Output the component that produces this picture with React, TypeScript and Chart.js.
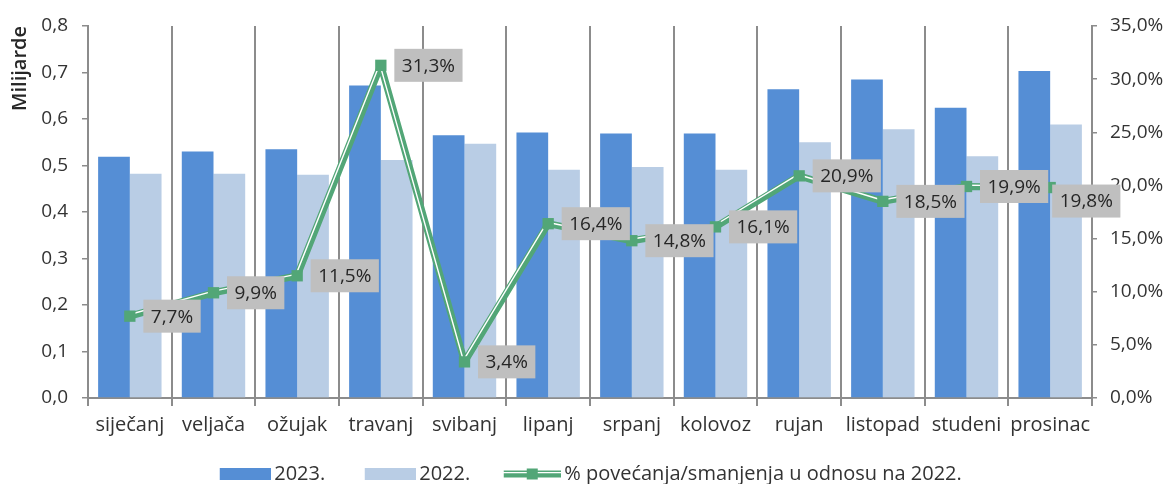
import React, { useEffect, useRef } from 'react';
import { Chart, registerables } from 'chart.js';

Chart.register(...registerables);

const categories = ['siječanj', 'veljača', 'ožujak', 'travanj', 'svibanj', 'lipanj', 'srpanj', 'kolovoz', 'rujan', 'listopad', 'studeni', 'prosinac'];
const values2023 = [0.519, 0.530, 0.535, 0.672, 0.565, 0.571, 0.569, 0.569, 0.664, 0.685, 0.624, 0.703];
const values2022 = [0.482, 0.482, 0.480, 0.512, 0.547, 0.491, 0.497, 0.491, 0.550, 0.578, 0.520, 0.588];
const changePct = [7.7, 9.9, 11.5, 31.3, 3.4, 16.4, 14.8, 16.1, 20.9, 18.5, 19.9, 19.8];
const seriesNames = ['2023.', '2022.', '% povećanja/smanjenja u odnosu na 2022.'];
const leftAxisTitle = 'Milijarde';
const leftAxisMax = 0.8;
const leftAxisStep = 0.1;
const rightAxisMax = 35;
const rightAxisStep = 5;

const C2023 = '#558ED5';
const C2022 = '#B9CDE5';
const CLINE = '#52A677';
const CGRID = '#8C8C8C';
const CTEXT = '#333333';
const FONT = "'Open Sans', 'Noto Sans', sans-serif";

// label nudges (pixel offsets) for the last data label, which the source places lower-left
const labelNudge: Record<number, { dx: number; dy: number }> = { 11: { dx: -11.5, dy: 13.5 } };

function fmt(v: number, d: number) {
  return v.toFixed(d).replace('.', ',');
}

function makeSwatch(kind: 'bar' | 'line', color: string) {
  const c = document.createElement('canvas');
  c.width = 70;
  c.height = 20;
  const ctx = c.getContext('2d')!;
  if (kind === 'bar') {
    ctx.fillStyle = color;
    ctx.fillRect(19, 4, 51, 12);
  } else {
    ctx.strokeStyle = color;
    ctx.lineWidth = 7;
    ctx.beginPath();
    ctx.moveTo(13, 10);
    ctx.lineTo(70, 10);
    ctx.stroke();
    ctx.strokeStyle = '#ffffff';
    ctx.lineWidth = 1.4;
    ctx.beginPath();
    ctx.moveTo(13, 8.6);
    ctx.lineTo(70, 8.6);
    ctx.stroke();
    ctx.fillStyle = color;
    ctx.fillRect(41.5 - 5.5, 4.5, 11, 11);
  }
  return c;
}

const stripeOffset = {
  id: 'stripeOffset',
  beforeDatasetDraw(chart: any, args: any) {
    if (args.index === 3) {
      chart.ctx.save();
      chart.ctx.translate(-1.1, -1.4);
    }
  },
  afterDatasetDraw(chart: any, args: any) {
    if (args.index === 3) chart.ctx.restore();
  },
};

const dataLabels = {
  id: 'dataLabelsBoxes',
  afterDatasetsDraw(chart: any) {
    const meta = chart.getDatasetMeta(4);
    const ctx = chart.ctx;
    ctx.save();
    ctx.font = `19px ${FONT}`;
    ctx.textBaseline = 'middle';
    ctx.textAlign = 'left';
    meta.data.forEach((el: any, i: number) => {
      const v = chart.data.datasets[4].data[i];
      const text = fmt(v, 1) + '%';
      const tw = ctx.measureText(text).width;
      const n = labelNudge[i] || { dx: 0, dy: 0 };
      const w = tw + 15;
      const h = 33;
      const left = el.x + 13.5 + n.dx;
      const cy = el.y + n.dy;
      ctx.fillStyle = '#BFBFBF';
      ctx.fillRect(left, cy - h / 2, w, h);
      ctx.fillStyle = '#262626';
      ctx.fillText(text, left + 7.5, cy + 1);
    });
    ctx.restore();
  },
};

export default function App() {
  const ref = useRef<HTMLCanvasElement>(null);
  useEffect(() => {
    if (!ref.current) return;
    Chart.defaults.font.family = FONT;
    Chart.defaults.color = CTEXT;
    const swBar23 = makeSwatch('bar', C2023);
    const swBar22 = makeSwatch('bar', C2022);
    const swLine = makeSwatch('line', CLINE);
    const chart = new Chart(ref.current, {
      type: 'bar',
      data: {
        labels: categories,
        datasets: [
          { type: 'bar', label: seriesNames[0], data: values2023, backgroundColor: C2023, yAxisID: 'y', order: 10, categoryPercentage: 0.758, barPercentage: 1 },
          { type: 'bar', label: seriesNames[1], data: values2022, backgroundColor: C2022, yAxisID: 'y', order: 10, categoryPercentage: 0.758, barPercentage: 1 },
          { type: 'line', label: seriesNames[2], data: changePct, borderColor: CLINE, borderWidth: 7, borderJoinStyle: 'bevel', pointRadius: 0, yAxisID: 'y1', order: 3, tension: 0 },
          { type: 'line', label: '_stripe', data: changePct, borderColor: '#FFFFFF', borderWidth: 1.4, borderJoinStyle: 'bevel', pointRadius: 0, yAxisID: 'y1', order: 2, tension: 0 },
          { type: 'line', label: '_markers', data: changePct, showLine: false, pointStyle: 'rect', pointRadius: 8, pointBorderWidth: 0, pointBackgroundColor: CLINE, pointBorderColor: CLINE, yAxisID: 'y1', order: 1 },
        ] as any,
      },
      options: {
        responsive: false,
        animation: false,
        devicePixelRatio: 1,
        layout: { padding: { top: 26, left: 0, right: 0, bottom: -10 } },
        plugins: {
          tooltip: { enabled: false },
          legend: {
            position: 'bottom',
            labels: {
              usePointStyle: true,
              pointStyleWidth: 57,
              padding: 27,
              color: CTEXT,
              font: { size: 20, family: FONT },
              generateLabels: () => [
                { text: seriesNames[0], pointStyle: swBar23, datasetIndex: 0, fontColor: CTEXT, lineWidth: 0, hidden: false } as any,
                { text: seriesNames[1], pointStyle: swBar22, datasetIndex: 1, fontColor: CTEXT, lineWidth: 0, hidden: false } as any,
                { text: seriesNames[2], pointStyle: swLine, datasetIndex: 2, fontColor: CTEXT, lineWidth: 0, hidden: false } as any,
              ],
            },
          },
        },
        scales: {
          x: {
            offset: true,
            afterFit: (s: any) => { s.height = 39; },
            grid: { offset: true, color: CGRID, lineWidth: 2, tickLength: 8, drawOnChartArea: true, drawTicks: true },
            border: { display: true, color: CGRID, width: 2 },
            ticks: { font: { size: 20, family: FONT }, color: CTEXT, padding: 7, maxRotation: 0, autoSkip: false },
          },
          y: {
            position: 'left',
            min: 0,
            max: leftAxisMax,
            afterFit: (s: any) => { s.width = 88; },
            grid: { drawOnChartArea: false, drawTicks: true, tickLength: 6, color: CGRID, lineWidth: 1.5 },
            border: { display: true, color: CGRID, width: 2 },
            ticks: { stepSize: leftAxisStep, padding: 14, font: { size: 19, family: FONT }, color: CTEXT, callback: (v: any) => fmt(Number(v), 1) },
            title: { display: true, text: leftAxisTitle, align: 'end', font: { size: 20, weight: 600, family: FONT }, color: '#262626', padding: { top: 8, bottom: 0 } },
          },
          y1: {
            position: 'right',
            min: 0,
            max: rightAxisMax,
            afterFit: (s: any) => { s.width = 77; },
            grid: { drawOnChartArea: false, drawTicks: true, tickLength: 5, color: CGRID, lineWidth: 1.5 },
            border: { display: true, color: CGRID, width: 2 },
            ticks: { stepSize: rightAxisStep, padding: 13, font: { size: 19, family: FONT }, color: CTEXT, callback: (v: any) => fmt(Number(v), 1) + '%' },
          },
        },
      } as any,
      plugins: [stripeOffset, dataLabels],
    });
    return () => chart.destroy();
  }, []);
  return (
    <div style={{ position: 'absolute', left: 0, top: 0, width: 1169, height: 484, background: '#fff' }}>
      <canvas ref={ref} width={1169} height={484} style={{ display: 'block' }} />
    </div>
  );
}
